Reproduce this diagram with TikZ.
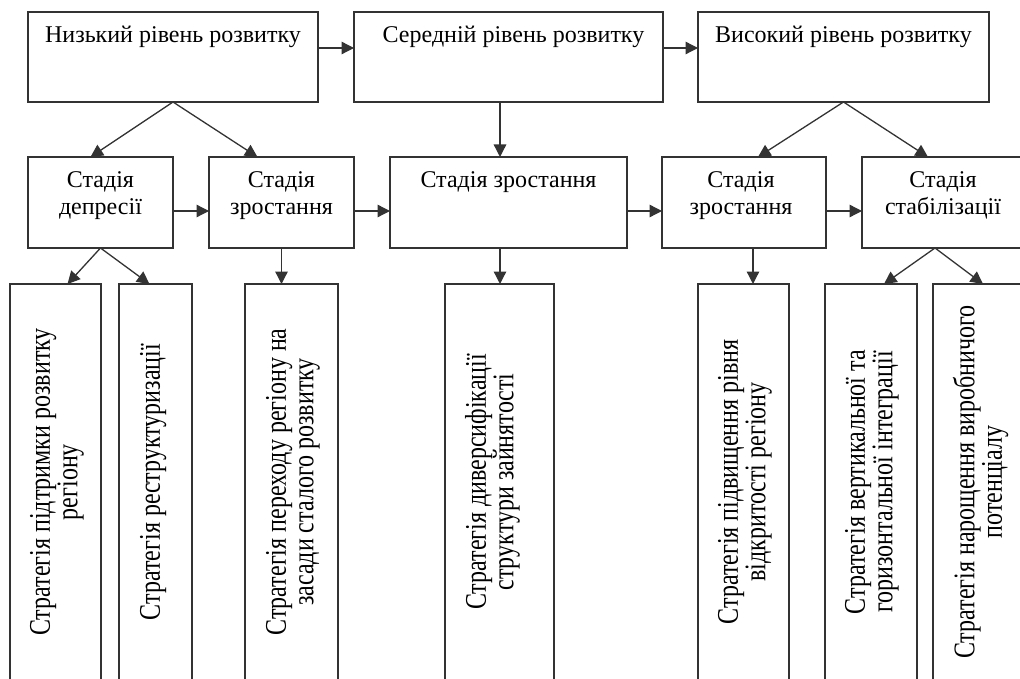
\documentclass[tikz,border=0pt]{standalone}
\usepackage{fontspec}
\setmainfont{Liberation Serif}
\usetikzlibrary{arrows.meta}
\begin{document}
\begin{tikzpicture}[x=1pt,y=-1pt,
  box/.style={draw=black!80, line width=1.3pt, inner sep=0pt, outer sep=0pt},
  arr/.style={draw=black!80, line width=1.3pt, -{Triangle[length=12.5pt,width=12.5pt]}},
  lbl/.style={inner sep=0pt, outer sep=0pt, font=\fontsize{24}{27}\selectfont, anchor=base},
  vlbl/.style={inner sep=0pt, outer sep=0pt, font=\fontsize{24}{22}\selectfont, align=center,
     anchor=north, rotate=90, yscale=1.25}]
\useasboundingbox (0,0) rectangle (1020,679);
\clip (0,0) rectangle (1020,679);
% top row
\node[box, minimum width=290, minimum height=90] (L1) at (173,57) {};
\node[box, minimum width=309, minimum height=90] (L2) at (508.5,57) {};
\node[box, minimum width=291, minimum height=90] (L3) at (843.5,57) {};
\node[lbl] (L1t) at ([yshift=-31pt]L1.north) {Низький рівень розвитку};
\node[lbl] (L2t) at ([yshift=-31pt,xshift=5pt]L2.north) {Середній рівень розвитку};
\node[lbl] (L3t) at ([yshift=-31pt]L3.north) {Високий рівень розвитку};
% second row
\node[box, minimum width=145, minimum height=91] (S1) at (100.5,202.5) {};
\node[box, minimum width=145, minimum height=91] (S2) at (281.5,202.5) {};
\node[box, minimum width=237, minimum height=91] (S3) at (508.5,202.5) {};
\node[box, minimum width=164, minimum height=91] (S4) at (744,202.5) {};
\node[box, minimum width=162, minimum height=91] (S5) at (943,202.5) {};
\node[lbl] (S1t) at ([yshift=-31pt]S1.north) {\begin{tabular}[t]{@{}c@{}}Стадія\\депресії\end{tabular}};
\node[lbl] (S2t) at ([yshift=-31pt]S2.north) {\begin{tabular}[t]{@{}c@{}}Стадія\\зростання\end{tabular}};
\node[lbl] (S3t) at ([yshift=-31pt]S3.north) {Стадія зростання};
\node[lbl] (S4t) at ([yshift=-31pt,xshift=-3pt]S4.north) {\begin{tabular}[t]{@{}c@{}}Стадія\\зростання\end{tabular}};
\node[lbl] (S5t) at ([yshift=-31pt]S5.north) {\begin{tabular}[t]{@{}c@{}}Стадія\\стабілізації\end{tabular}};
% third row
\node[box, minimum width=91, minimum height=396] (T1) at (55.5,482) {};
\node[box, minimum width=73, minimum height=396] (T2) at (155.5,482) {};
\node[box, minimum width=93, minimum height=396] (T3) at (291.5,482) {};
\node[box, minimum width=109, minimum height=396] (T4) at (499.5,482) {};
\node[box, minimum width=91, minimum height=396] (T5) at (743.5,482) {};
\node[box, minimum width=92, minimum height=396] (T6) at (871,482) {};
\node[box, minimum width=91, minimum height=396] (T7) at (978.5,482) {};
\node[vlbl] (T1t) at ([xshift=20pt]T1.west) {Стратегія підтримки розвитку\\регіону};
\node[vlbl] (T2t) at ([xshift=21pt]T2.west) {Стратегія реструктуризації};
\node[vlbl] (T3t) at ([xshift=21pt]T3.west) {Стратегія переходу регіону на\\засади сталого розвитку};
\node[vlbl] (T4t) at ([xshift=20pt]T4.west) {Стратегія диверсифікації\\структури зайнятості};
\node[vlbl] (T5t) at ([xshift=20pt]T5.west) {Стратегія підвищення рівня\\відкритості регіону};
\node[vlbl] (T6t) at ([xshift=20pt]T6.west) {Стратегія вертикальної та\\горизонтальної інтеграції};
\node[vlbl] (T7t) at ([xshift=20pt]T7.west) {Стратегія нарощення виробничого\\потенціалу};
% arrows top row
\draw[arr] ([yshift=9pt]L1.east) -- ([yshift=9pt]L2.west);
\draw[arr] ([yshift=9pt]L2.east) -- ([yshift=9pt]L3.west);
% arrows second row
\draw[arr] ([yshift=-8.5pt]S1.east) -- ([yshift=-8.5pt]S2.west);
\draw[arr] ([yshift=-8.5pt]S2.east) -- ([yshift=-8.5pt]S3.west);
\draw[arr] ([yshift=-8.5pt]S3.east) -- ([yshift=-8.5pt]S4.west);
\draw[arr] ([yshift=-8.5pt]S4.east) -- ([yshift=-8.5pt]S5.west);
% top to second
\draw[arr] (L1.south) -- ([xshift=-10pt]S1.north);
\draw[arr] (L1.south) -- ([xshift=-24pt]S2.north);
\draw[arr] ([xshift=-8.5pt]L2.south) -- ([xshift=-8.5pt]S3.north);
\draw[arr] (L3.south) -- ([xshift=14pt]S4.north);
\draw[arr] (L3.south) -- ([xshift=-15pt]S5.north);
% second to third
\draw[arr] (S1.south) -- ([xshift=12pt]T1.north);
\draw[arr] (S1.south) -- ([xshift=-6pt]T2.north);
\draw[arr] (S2.south) -- (S2.south |- T3.north);
\draw[arr] ([xshift=-8.5pt]S3.south) -- ([xshift=-8.5pt]S3.south |- T4.north);
\draw[arr] ([xshift=9pt]S4.south) -- ([xshift=9pt]S4.south |- T5.north);
\draw[arr] ([xshift=-8pt]S5.south) -- ([xshift=13pt]T6.north);
\draw[arr] ([xshift=-8pt]S5.south) -- ([xshift=4.5pt]T7.north);
\end{tikzpicture}
\end{document}
